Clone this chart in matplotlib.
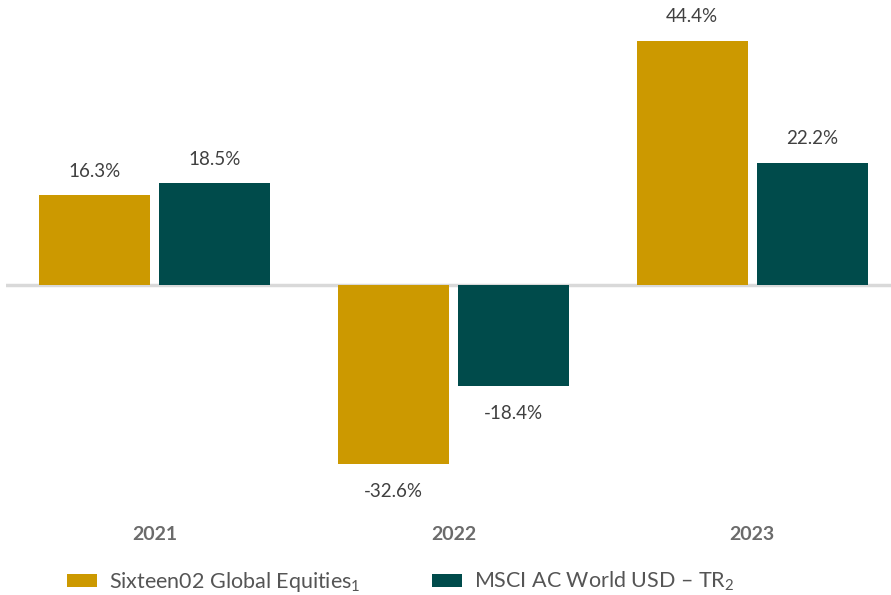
import matplotlib
matplotlib.use("Agg")
import matplotlib.pyplot as plt
import numpy as np

plt.rcParams['font.family'] = ['Lato', 'DejaVu Sans']
plt.rcParams['mathtext.fontset'] = 'custom'
plt.rcParams['mathtext.rm'] = 'Lato'
plt.rcParams['mathtext.it'] = 'Lato:italic'
plt.rcParams['mathtext.bf'] = 'Lato:bold'

years = ['2021', '2022', '2023']
series_names = ['Sixteen02 Global Equities$_{1}$', 'MSCI AC World USD – TR$_{2}$']
sixteen02 = [16.3, -32.6, 44.4]
msci = [18.5, -18.4, 22.2]
colors = ['#CC9900', '#004B4B']

fig = plt.figure(figsize=(8.91, 5.95), dpi=100)
ax = fig.add_axes([6/891, 95/595, 885/891, 500/595])

x = np.arange(len(years))
w = 111/298.5
off = (w + 9/298.5) / 2
b1 = ax.bar(x - off, sixteen02, w, color=colors[0], label=series_names[0])
b2 = ax.bar(x + off, msci, w, color=colors[1], label=series_names[1])

ax.set_xlim(-0.4985, 2.465)
ax.set_ylim(-215/5.5, 285/5.5)
ax.axhline(0, color='#d9d9d9', lw=2.5, zorder=0)

for bars, vals in ((b1, sixteen02), (b2, msci)):
    for rect, v in zip(bars, vals):
        cx = rect.get_x() + rect.get_width()/2
        dy = 24 if v >= 0 else -27
        ax.annotate(f'{v:.1f}%', (cx, v), xytext=(0, dy), textcoords='offset pixels',
                    ha='center', va='center', fontsize=13.5, color='#404040')

for xi, yr in zip(x, years):
    ax.text(xi, -(535 - 285) / 5.5, yr, ha='center', va='center',
            fontsize=14, fontweight='bold', color='#6b6b6b', clip_on=False)

for s in ax.spines.values():
    s.set_visible(False)
ax.set_xticks([])
ax.set_yticks([])

leg = fig.legend(handles=[b1, b2], loc='center left', bbox_to_anchor=(67/891, 1 - 582/595),
                 ncol=2, frameon=False, fontsize=15.5, handlelength=1.4, handleheight=0.6,
                 handletextpad=0.55, columnspacing=3.3, labelcolor='#555555',
                 borderpad=0.0, borderaxespad=0)

fig.savefig('out.png', dpi=100)
